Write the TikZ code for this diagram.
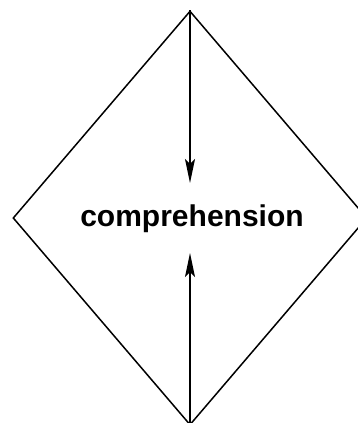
\documentclass[tikz,border=0pt]{standalone}
\usepackage{fontspec}
\setmainfont{Liberation Sans}
\usetikzlibrary{arrows.meta, shapes.geometric}

\begin{document}
\begin{tikzpicture}[x=1pt, y=-1pt, line width=1.5pt,
    flow/.style={-{Stealth[length=24pt, width=10pt, inset=5pt]}}]
    \useasboundingbox (0,0) rectangle (358,423);
    \node[diamond, draw, inner sep=0pt, minimum width=354pt, minimum height=414pt] (box) at (190,218) {};
    \node[font=\bfseries\fontsize{30}{34}\selectfont] (word) at (192,219) {comprehension};
    \coordinate (intop) at (190,183);
    \coordinate (inbot) at (190,253);
    \draw[flow] (box.north) -- (intop); % downward
    \draw[flow] (box.south) -- (inbot); % upward
\end{tikzpicture}
\end{document}
